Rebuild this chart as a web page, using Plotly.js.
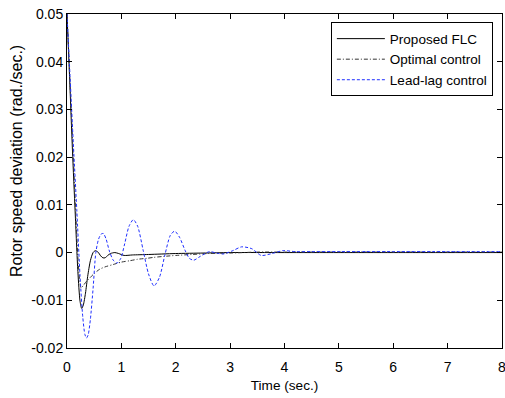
<!DOCTYPE html>
<html>
<head>
<meta charset="utf-8">
<script src="https://cdn.plot.ly/plotly-3.0.1.min.js"></script>
<style>html,body{margin:0;padding:0;background:#fff;}#chart{width:505px;height:398px;}</style>
</head>
<body>
<div id="chart"></div>
<script>
// Proposed FLC
var flcTime = [0, 0.05, 0.10, 0.15, 0.20, 0.24, 0.27, 0.30, 0.34, 0.38, 0.43, 0.48, 0.52, 0.57, 0.62, 0.66, 0.70, 0.75, 0.80, 0.88, 0.95, 1.05, 1.2, 1.5, 2.0, 2.5, 3.0, 4, 5, 6, 7, 8];
var flcValue = [0.05, 0.036, 0.0215, 0.0085, -0.004, -0.0102, -0.0117, -0.011, -0.0085, -0.005, -0.0017, 0.0000, 0.0004, 0.0001, -0.0007, -0.0011, -0.0011, -0.0006, -0.0002, 0.0, -0.0002, -0.0006, -0.0005, -0.0004, -0.0002, -0.0001, 0, 0, 0, 0, 0, 0];

// Optimal control
var optTime = [0, 0.05, 0.10, 0.15, 0.20, 0.23, 0.26, 0.30, 0.36, 0.42, 0.5, 0.6, 0.7, 0.85, 1.0, 1.16, 1.3, 1.47, 1.6, 1.78, 2.0, 2.3, 2.6, 3.0, 3.5, 4, 5, 6, 7, 8];
var optValue = [0.05, 0.037, 0.024, 0.011, -0.001, -0.0055, -0.0074, -0.0069, -0.006, -0.0053, -0.0044, -0.0035, -0.003, -0.0025, -0.002, -0.0017, -0.0014, -0.0012, -0.001, -0.0008, -0.0006, -0.0004, -0.0002, -0.0001, 0.0001, 0.0001, 0.0001, 0.0001, 0.0001, 0.0001];

// Lead-lag control
var llTime = [0, 0.06, 0.12, 0.18, 0.24, 0.29, 0.33, 0.36, 0.39, 0.43, 0.48, 0.53, 0.58, 0.63, 0.67, 0.72, 0.78, 0.85, 0.92, 0.99, 1.06, 1.14, 1.22, 1.3, 1.4, 1.5, 1.6, 1.7, 1.8, 1.9, 1.98, 2.07, 2.17, 2.25, 2.33, 2.45, 2.62, 2.75, 2.87, 3.05, 3.21, 3.4, 3.57, 3.77, 3.97, 4.2, 4.5, 5, 5.5, 6, 7, 8];
var llValue = [0.05, 0.036, 0.022, 0.009, -0.005, -0.0135, -0.0172, -0.0179, -0.0172, -0.014, -0.0075, 0.0, 0.0028, 0.0039, 0.004, 0.0028, 0.0003, -0.0016, -0.0022, -0.0012, 0.0018, 0.0055, 0.0069, 0.0055, 0.0005, -0.0045, -0.0070, -0.0052, -0.0005, 0.0036, 0.0045, 0.0032, 0.0005, -0.0012, -0.0016, -0.0008, 0.0002, -0.0001, -0.0003, 0.0004, 0.0012, 0.0008, -0.0006, -0.0002, 0.0004, 0.0002, 0.0002, 0.0002, 0.0002, 0.0002, 0.0002, 0.0002];

var seriesNames = ['Proposed FLC', 'Optimal control', 'Lead-lag control'];

var xTicks = [0, 1, 2, 3, 4, 5, 6, 7, 8];
var yTicks = [0.05, 0.04, 0.03, 0.02, 0.01, 0, -0.01, -0.02];
var yTickText = ['0.05', '0.04', '0.03', '0.02', '0.01', '0', '-0.01', '-0.02'];

var xTitle = 'Time (sec.)';
var yTitle = 'Rotor speed deviation (rad./sec.)';

var font = 'Arial, "Liberation Sans", Helvetica, sans-serif';

var traces = [
  {x: flcTime, y: flcValue, name: seriesNames[0], mode: 'lines',
   line: {color: '#000000', width: 1, dash: 'solid', shape: 'spline', smoothing: 0.7}},
  {x: optTime, y: optValue, name: seriesNames[1], mode: 'lines',
   line: {color: '#333333', width: 1, dash: '4px,2px,1px,2px', shape: 'spline', smoothing: 0.7}},
  {x: llTime, y: llValue, name: seriesNames[2], mode: 'lines',
   line: {color: '#1f2fff', width: 1, dash: '3px,2px', shape: 'spline', smoothing: 0.7}}
];

var layout = {
  width: 505, height: 398,
  margin: {l: 67, r: 3, t: 14, b: 50},
  paper_bgcolor: '#ffffff', plot_bgcolor: '#ffffff',
  font: {family: font, size: 14, color: '#000000'},
  showlegend: true,
  legend: {x: 0.979, y: 0.975, xanchor: 'right', yanchor: 'top',
    bgcolor: '#ffffff', bordercolor: '#000000', borderwidth: 1,
    font: {family: font, size: 13.5, color: '#000000'}, itemwidth: 48, tracegroupgap: 0},
  xaxis: {
    range: [0, 8], tickvals: xTicks, ticktext: xTicks.map(String),
    ticks: 'inside', ticklen: 5, tickcolor: '#000', tickwidth: 1,
    showline: true, linecolor: '#000', linewidth: 1, mirror: 'allticks',
    showgrid: false, zeroline: false, ticklabeloverflow: 'allow',
    ticklabelstandoff: 6,
    tickfont: {family: font, size: 14},
    title: {text: xTitle, font: {family: font, size: 13.6}, standoff: 6}
  },
  yaxis: {
    range: [-0.02, 0.05], tickvals: yTicks, ticktext: yTickText,
    ticks: 'inside', ticklen: 5, tickcolor: '#000', tickwidth: 1,
    showline: true, linecolor: '#000', linewidth: 1, mirror: 'allticks',
    showgrid: false, zeroline: false,
    tickfont: {family: font, size: 14}
  },
  annotations: [{
    text: yTitle, xref: 'paper', yref: 'paper', x: -0.115, y: 0.56,
    xanchor: 'center', yanchor: 'middle', textangle: -90, showarrow: false,
    font: {family: font, size: 16, color: '#000'}
  }]
};

Plotly.newPlot('chart', traces, layout, {displayModeBar: false, staticPlot: true});
</script>
</body>
</html>
